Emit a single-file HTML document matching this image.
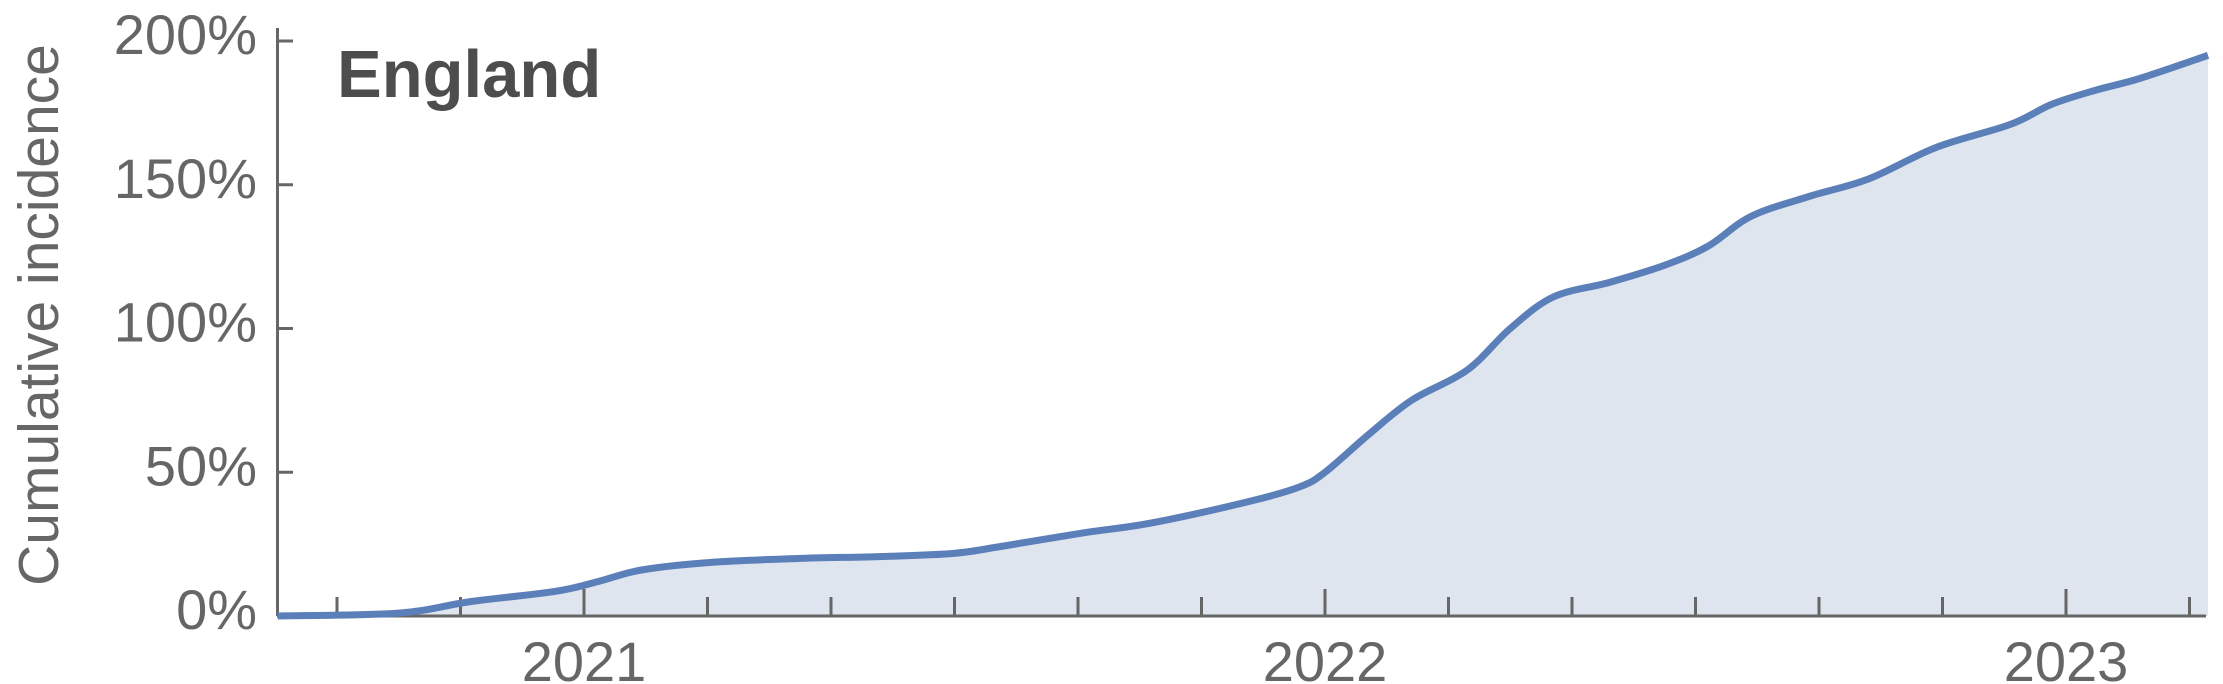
<!DOCTYPE html>
<html><head><meta charset="utf-8"><style>
html,body{margin:0;padding:0;background:#fff;}
svg{display:block;font-family:"Liberation Sans",Arial,sans-serif;}
</style></head><body>
<svg id="chart" width="2223" height="684" viewBox="0 0 2223 684">
<g id="fillg"></g><g id="axes"></g><g id="lineg"></g>
<text x="337" y="97" font-size="67" font-weight="bold" fill="#4d4d4d">England</text>
<text transform="translate(58,315) rotate(-90)" text-anchor="middle" font-size="57" fill="#666">Cumulative incidence</text>
</svg>
<script>
// months since Jan 2021
const months = [-4.96,-3.0,-1.84,-0.46,0.23,0.93,2.08,3.46,4.84,5.99,6.7,8.08,9.2,10.8,11.6,12.0,12.7,13.4,14.3,15.0,15.7,16.6,17.5,18.2,18.9,19.85,20.8,21.9,23.1,23.77,24.5,25.2,26.3];
const values = [0,1,5,8.6,12,16,18.7,20,20.7,21.8,24,28.9,32.4,40,45,50,63,75,85.5,100,111,116,122,128.6,139,146,152,163,171,178,183,187,195];
const yTicks = [0,50,100,150,200];
const yTickLabels = ["0%","50%","100%","150%","200%"];
const xTicks = [-4,-2,0,2,4,6,8,10,12,14,16,18,20,22,24,26];
const yearTicks = [0,12,24];
const yearLabels = ["2021","2022","2023"];

const X0=584, MPX=61.75, Y0=616, YPX=(616-41)/200;
const xs=t=>X0+t*MPX, ys=v=>Y0-v*YPX;
const NS="http://www.w3.org/2000/svg";
function mk(tag,attrs,parent){const e=document.createElementNS(NS,tag);for(const k in attrs)e.setAttribute(k,attrs[k]);parent.appendChild(e);return e;}
const pts=months.map((m,i)=>[xs(m),ys(values[i])]);
let d="M"+pts[0][0]+","+pts[0][1];
for(let i=0;i<pts.length-1;i++){
  const p0=pts[Math.max(0,i-1)],p1=pts[i],p2=pts[i+1],p3=pts[Math.min(pts.length-1,i+2)];
  const c1=[p1[0]+(p2[0]-p0[0])/6,p1[1]+(p2[1]-p0[1])/6];
  const c2=[p2[0]-(p3[0]-p1[0])/6,p2[1]-(p3[1]-p1[1])/6];
  d+=` C${c1[0]},${c1[1]} ${c2[0]},${c2[1]} ${p2[0]},${p2[1]}`;
}
const last=pts[pts.length-1];
const area=mk("path",{d:d+` L${last[0]},${Y0} L${pts[0][0]},${Y0} Z`,fill:"#dfe5ef"},document.getElementById("fillg"));


const line=mk("path",{d:d,fill:"none",stroke:"#5b7fb8","stroke-width":7,"stroke-linejoin":"round"},document.getElementById("lineg"));



const ax=document.getElementById("axes");
const yl=mk("line",{x1:277.5,y1:28,x2:277.5,y2:Y0,stroke:"#666","stroke-width":3},ax);


const xl=mk("line",{x1:277,y1:Y0,x2:2206,y2:Y0,stroke:"#666","stroke-width":3},ax);


yTicks.forEach((v,i)=>{
  mk("line",{x1:277,y1:ys(v),x2:293,y2:ys(v),stroke:"#666","stroke-width":3},ax);
  const t=mk("text",{x:257,y:ys(v)+13,"text-anchor":"end","font-size":56,fill:"#666"},ax);
  t.textContent=yTickLabels[i];
  
  
});
xTicks.forEach(m=>{
  const major=yearTicks.includes(m);
  mk("line",{x1:xs(m),y1:Y0,x2:xs(m),y2:Y0-(major?27:19),stroke:"#666","stroke-width":3},ax);
});
yearTicks.forEach((m,i)=>{
  const t=mk("text",{x:xs(m),y:681,"text-anchor":"middle","font-size":56,fill:"#666"},ax);
  t.textContent=yearLabels[i];
  
  
});
</script>
</body></html>
